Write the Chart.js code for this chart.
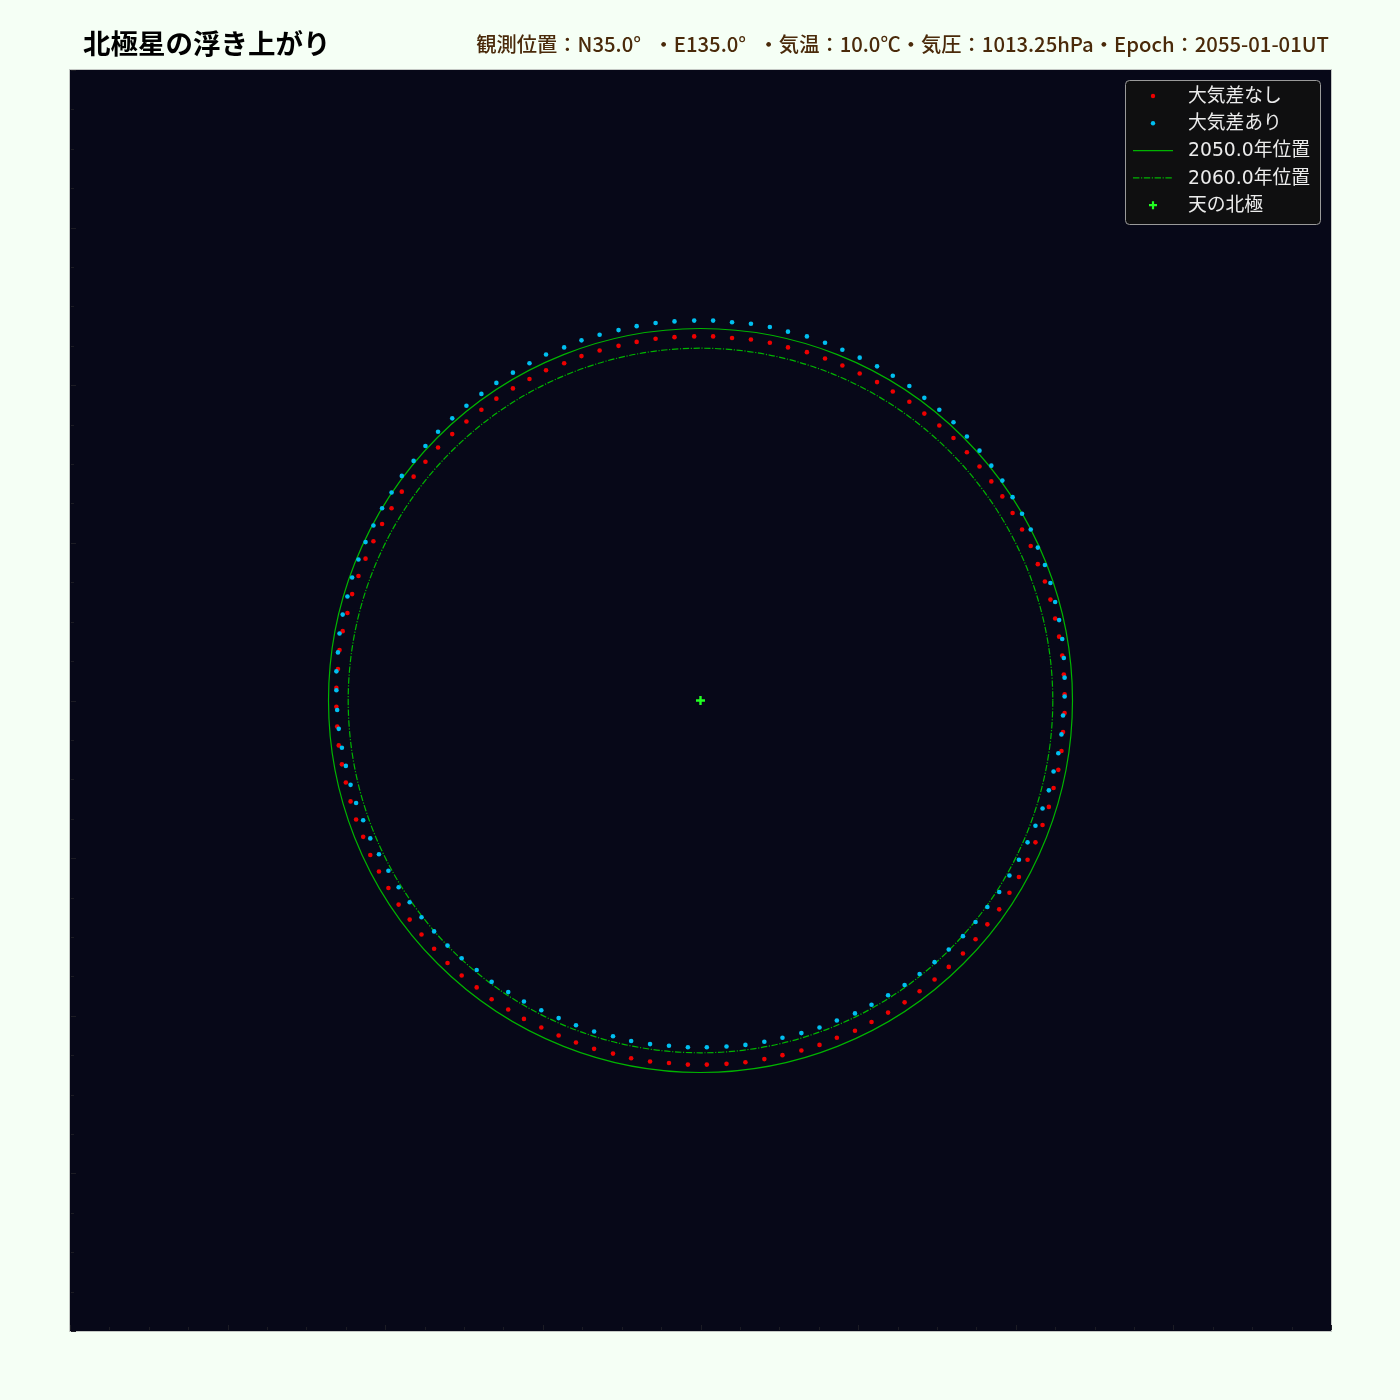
<!DOCTYPE html>
<html lang="ja">
<head>
<meta charset="utf-8">
<script src="https://cdn.jsdelivr.net/npm/chart.js@4.4.1/dist/chart.umd.min.js"></script>
<style>
  html, body { margin: 0; padding: 0; background: #f5fff5; }
  #wrap { position: relative; width: 1400px; height: 1400px; }
  #title { position: absolute; left: 83px; top: 22px; font: bold 27.5px "Noto Sans CJK JP", sans-serif; color: #000; white-space: nowrap; }
  #sub { position: absolute; right: 71px; top: 28px; font: 500 20.3px "Noto Sans CJK JP", sans-serif; color: #4a2a0a; white-space: nowrap; }
  #sub .deg { display: inline-block; width: 1em; }
  canvas { position: absolute; left: 0; top: 0; }
</style>
</head>
<body>
<div id="wrap">
  <canvas id="chart" width="1400" height="1400"></canvas>
  <div id="title">北極星の浮き上がり</div>
  <div id="sub">観測位置：N35.0<span class="deg">°</span>・E135.0<span class="deg">°</span>・気温：10.0℃・気圧：1013.25hPa・Epoch：2055-01-01UT</div>
</div>
<script>
// offsets from the celestial pole, degrees (x: east-west, y: up)
const noRefrX = [
  0.016, 0.040, 0.064, 0.088, 0.111, 0.135, 0.158, 0.180, 0.202, 0.224, 0.244, 0.265, 0.284, 0.303, 0.321,
  0.338, 0.354, 0.369, 0.383, 0.396, 0.408, 0.419, 0.428, 0.437, 0.444, 0.450, 0.455, 0.459, 0.461, 0.462,
  0.462, 0.460, 0.458, 0.454, 0.448, 0.442, 0.434, 0.425, 0.415, 0.404, 0.392, 0.379, 0.364, 0.349, 0.333,
  0.315, 0.297, 0.278, 0.259, 0.238, 0.217, 0.196, 0.173, 0.151, 0.128, 0.104, 0.081, 0.057, 0.033, 0.008,
  -0.016, -0.040, -0.064, -0.088, -0.111, -0.135, -0.158, -0.180, -0.202, -0.224, -0.244, -0.265, -0.284, -0.303, -0.321,
  -0.338, -0.354, -0.369, -0.383, -0.396, -0.408, -0.419, -0.428, -0.437, -0.444, -0.450, -0.455, -0.459, -0.461, -0.462,
  -0.462, -0.460, -0.458, -0.454, -0.448, -0.442, -0.434, -0.425, -0.415, -0.404, -0.392, -0.379, -0.364, -0.349, -0.333,
  -0.315, -0.297, -0.278, -0.259, -0.238, -0.217, -0.196, -0.173, -0.151, -0.128, -0.104, -0.081, -0.057, -0.033, -0.008
];
const noRefrY = [
  0.462, 0.460, 0.458, 0.454, 0.448, 0.442, 0.434, 0.425, 0.415, 0.404, 0.392, 0.379, 0.364, 0.349, 0.333,
  0.315, 0.297, 0.278, 0.259, 0.238, 0.217, 0.196, 0.173, 0.151, 0.128, 0.104, 0.081, 0.057, 0.033, 0.008,
  -0.016, -0.040, -0.064, -0.088, -0.111, -0.135, -0.158, -0.180, -0.202, -0.224, -0.244, -0.265, -0.284, -0.303, -0.321,
  -0.338, -0.354, -0.369, -0.383, -0.396, -0.408, -0.419, -0.428, -0.437, -0.444, -0.450, -0.455, -0.459, -0.461, -0.462,
  -0.462, -0.460, -0.458, -0.454, -0.448, -0.442, -0.434, -0.425, -0.415, -0.404, -0.392, -0.379, -0.364, -0.349, -0.333,
  -0.315, -0.297, -0.278, -0.259, -0.238, -0.217, -0.196, -0.173, -0.151, -0.128, -0.104, -0.081, -0.057, -0.033, -0.008,
  0.016, 0.040, 0.064, 0.088, 0.111, 0.135, 0.158, 0.180, 0.202, 0.224, 0.244, 0.265, 0.284, 0.303, 0.321,
  0.338, 0.354, 0.369, 0.383, 0.396, 0.408, 0.419, 0.428, 0.437, 0.444, 0.450, 0.455, 0.459, 0.461, 0.462
];
// with refraction: same azimuth offsets, lifted by ~0.02 deg
const refrX = noRefrX;
const refrY = [
  0.482, 0.480, 0.478, 0.474, 0.468, 0.462, 0.454, 0.445, 0.435, 0.424, 0.412, 0.399, 0.384, 0.369, 0.353,
  0.335, 0.317, 0.298, 0.279, 0.258, 0.237, 0.217, 0.194, 0.172, 0.149, 0.125, 0.102, 0.078, 0.054, 0.029,
  0.005, -0.019, -0.043, -0.067, -0.090, -0.114, -0.137, -0.159, -0.180, -0.202, -0.222, -0.243, -0.262, -0.281, -0.299,
  -0.316, -0.332, -0.347, -0.361, -0.374, -0.386, -0.397, -0.406, -0.415, -0.422, -0.428, -0.433, -0.437, -0.439, -0.440,
  -0.440, -0.438, -0.436, -0.432, -0.426, -0.420, -0.412, -0.403, -0.393, -0.382, -0.370, -0.357, -0.342, -0.327, -0.311,
  -0.293, -0.275, -0.256, -0.237, -0.216, -0.195, -0.175, -0.152, -0.130, -0.107, -0.083, -0.060, -0.036, -0.012, 0.013,
  0.037, 0.061, 0.085, 0.109, 0.132, 0.156, 0.179, 0.201, 0.222, 0.244, 0.264, 0.285, 0.304, 0.323, 0.341,
  0.358, 0.374, 0.389, 0.403, 0.416, 0.428, 0.439, 0.448, 0.457, 0.464, 0.470, 0.475, 0.479, 0.481, 0.482
];
const orbitRadius2050 = 0.472;
const orbitRadius2060 = 0.447;
const pole = [{ x: 0, y: 0 }];

const axisMin = -0.8, axisMax = 0.8;
const majorTicks = [-0.8, -0.6, -0.4, -0.2, 0, 0.2, 0.4, 0.6, 0.8];
const minorTicks = [-0.75, -0.7, -0.65, -0.55, -0.5, -0.45, -0.35, -0.3, -0.25, -0.15, -0.1, -0.05,
  0.05, 0.1, 0.15, 0.25, 0.3, 0.35, 0.45, 0.5, 0.55, 0.65, 0.7, 0.75];

const toPoints = (xs, ys) => xs.map((x, i) => ({ x: x, y: ys[i] }));

// dark plot background + thin frame
const plotBg = {
  id: 'plotBg',
  beforeDraw(chart) {
    const { ctx, chartArea: a } = chart;
    ctx.save();
    ctx.fillStyle = '#070818';
    ctx.fillRect(a.left, a.top, a.right - a.left, a.bottom - a.top);
    ctx.strokeStyle = '#c4c8c4';
    ctx.lineWidth = 1;
    ctx.strokeRect(a.left - 0.5, a.top - 0.5, a.right - a.left + 1, a.bottom - a.top + 1);
    ctx.restore();
  },
  afterDatasetsDraw(chart) {
    const { ctx, chartArea: a, scales: { x, y } } = chart;
    ctx.save();
    ctx.strokeStyle = '#1c1c24';
    ctx.lineWidth = 1;
    const tick = (v, len) => {
      const px = Math.round(x.getPixelForValue(v)) + 0.5;
      const py = Math.round(y.getPixelForValue(v)) + 0.5;
      ctx.beginPath();
      ctx.moveTo(px, a.bottom - 1); ctx.lineTo(px, a.bottom - 1 - len);
      ctx.moveTo(a.left + 1, py); ctx.lineTo(a.left + 1 + len, py);
      ctx.stroke();
    };
    majorTicks.forEach(v => tick(v, 5));
    minorTicks.forEach(v => tick(v, 3));
    ctx.restore();
  }
};

// yearly position circles, centred on the pole
const orbits = {
  id: 'orbits',
  beforeDatasetsDraw(chart) {
    const { ctx, scales: { x, y } } = chart;
    const cx = x.getPixelForValue(0), cy = y.getPixelForValue(0);
    chart.data.datasets.forEach(ds => {
      if (ds.orbitRadius == null) return;
      const rx = x.getPixelForValue(ds.orbitRadius) - cx;
      const ry = cy - y.getPixelForValue(ds.orbitRadius);
      ctx.save();
      ctx.beginPath();
      ctx.ellipse(cx, cy, rx, ry, 0, 0, Math.PI * 2);
      ctx.strokeStyle = ds.borderColor;
      ctx.lineWidth = ds.borderWidth;
      ctx.setLineDash(ds.borderDash || []);
      ctx.stroke();
      ctx.restore();
    });
  }
};

// matplotlib-like legend box in the upper right of the plot
const boxLegend = {
  id: 'boxLegend',
  afterDraw(chart) {
    const { ctx, chartArea: a } = chart;
    const w = 195, h = 144;
    const x0 = a.right - 11 - w, y0 = a.top + 10;
    ctx.save();
    ctx.beginPath();
    ctx.roundRect(x0 + 0.5, y0 + 0.5, w, h, 4);
    ctx.fillStyle = 'rgba(16,16,16,0.95)';
    ctx.fill();
    ctx.strokeStyle = '#9a9a9a';
    ctx.lineWidth = 1;
    ctx.stroke();
    ctx.font = '18.8px "DejaVu Sans", "Noto Sans CJK JP", sans-serif';
    ctx.textBaseline = 'middle';
    chart.data.datasets.forEach((ds, i) => {
      const cy = y0 + 16 + i * 27.3;
      const mx = x0 + 28;
      if (ds.legendKind === 'dot') {
        ctx.beginPath();
        ctx.arc(mx, cy, 2.2, 0, Math.PI * 2);
        ctx.fillStyle = ds.backgroundColor;
        ctx.fill();
      } else if (ds.legendKind === 'line') {
        ctx.beginPath();
        ctx.moveTo(mx - 20, cy); ctx.lineTo(mx + 20, cy);
        ctx.strokeStyle = ds.borderColor;
        ctx.lineWidth = ds.borderWidth;
        ctx.setLineDash(ds.borderDash || []);
        ctx.stroke();
        ctx.setLineDash([]);
      } else {
        ctx.beginPath();
        ctx.moveTo(mx - 4, cy); ctx.lineTo(mx + 4, cy);
        ctx.moveTo(mx, cy - 4); ctx.lineTo(mx, cy + 4);
        ctx.strokeStyle = ds.borderColor;
        ctx.lineWidth = 2.2;
        ctx.stroke();
      }
      ctx.fillStyle = '#ececec';
      ctx.fillText(ds.label, x0 + 63, cy + 1);
    });
    ctx.restore();
  }
};

new Chart(document.getElementById('chart'), {
  type: 'scatter',
  data: {
    datasets: [
      {
        label: '大気差なし',
        data: toPoints(noRefrX, noRefrY),
        backgroundColor: '#ee0000',
        borderWidth: 0,
        pointRadius: 2.3,
        order: 2,
        legendKind: 'dot'
      },
      {
        label: '大気差あり',
        data: toPoints(refrX, refrY),
        backgroundColor: '#00bff0',
        borderWidth: 0,
        pointRadius: 2.3,
        order: 1,
        legendKind: 'dot'
      },
      {
        label: '2050.0年位置',
        data: [],
        orbitRadius: orbitRadius2050,
        borderColor: '#00b400',
        borderWidth: 1.2,
        order: 3,
        legendKind: 'line'
      },
      {
        label: '2060.0年位置',
        data: [],
        orbitRadius: orbitRadius2060,
        borderColor: '#00b400',
        borderWidth: 1.2,
        borderDash: [6.4, 1.6, 1.2, 1.6],
        order: 3,
        legendKind: 'line'
      },
      {
        label: '天の北極',
        data: pole,
        pointStyle: 'cross',
        pointRadius: 4.5,
        borderColor: '#22ff22',
        borderWidth: 2.4,
        order: 0,
        legendKind: 'cross'
      }
    ]
  },
  options: {
    responsive: false,
    animation: false,
    devicePixelRatio: 1,
    layout: { padding: { left: 70, top: 70, right: 69, bottom: 69 } },
    plugins: {
      legend: { display: false },
      tooltip: { enabled: false }
    },
    scales: {
      x: { type: 'linear', min: axisMin, max: axisMax, display: false },
      y: { type: 'linear', min: axisMin, max: axisMax, display: false }
    }
  },
  plugins: [plotBg, orbits, boxLegend]
});
</script>
</body>
</html>
